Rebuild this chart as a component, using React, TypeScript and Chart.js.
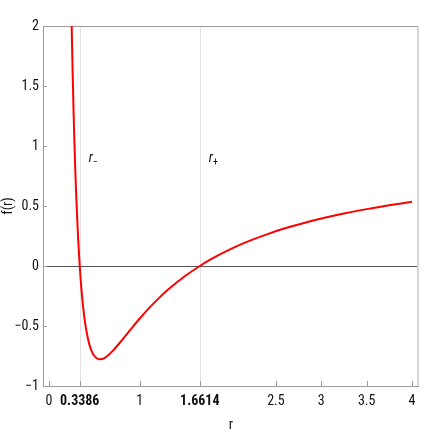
import React, { useEffect, useRef } from 'react';
import { Chart, registerables } from 'chart.js';

Chart.register(...registerables);

// Curve samples f(r)
const rValues = [0.25, 0.26, 0.27, 0.28, 0.29, 0.3, 0.32, 0.3386, 0.36, 0.38, 0.4, 0.43, 0.46, 0.5, 0.5625, 0.62, 0.7, 0.8, 0.9, 1.0, 1.1, 1.2, 1.3, 1.4, 1.5, 1.6614, 1.8, 2.0, 2.2, 2.4, 2.6, 2.8, 3.0, 3.25, 3.5, 3.75, 4.0];
const fValues = [2.0, 1.629, 1.309, 1.032, 0.792, 0.583, 0.243, 0, -0.216, -0.368, -0.484, -0.609, -0.69, -0.75, -0.778, -0.763, -0.709, -0.621, -0.528, -0.4375, -0.353, -0.276, -0.205, -0.142, -0.083, 0, 0.063, 0.141, 0.207, 0.264, 0.314, 0.357, 0.396, 0.438, 0.474, 0.507, 0.535];

const rMinus = 0.3386;
const rPlus = 1.6614;

const xTickValues = [0, 0.3386, 1, 1.6614, 2.5, 3, 3.5, 4];
const xTickLabels = ['0', '0.3386', '1', '1.6614', '2.5', '3', '3.5', '4'];
const xBoldTicks = ['0.3386', '1.6614'];
const yTickValues = [-1, -0.5, 0, 0.5, 1, 1.5, 2];
const yTickLabels = ['\u22121', '\u22120.5', '0', '0.5', '1', '1.5', '2'];

const horizonLabels = [
  { r: rMinus, sub: '\u2212' },
  { r: rPlus, sub: '+' },
];
const labelY = 0.9;

const FONT = '"Roboto Condensed", "DejaVu Sans Condensed", sans-serif';

const framePlugin = {
  id: 'framePlugin',
  beforeDatasetsDraw(chart: any) {
    const { ctx, chartArea, scales } = chart;
    const x = scales.x;
    const y = scales.y;
    const { left, right, top, bottom } = chartArea;
    ctx.save();
    // horizon grid lines
    ctx.strokeStyle = '#e2e2e2';
    ctx.lineWidth = 1;
    [rMinus, rPlus].forEach((v) => {
      const px = Math.round(x.getPixelForValue(v)) + 0.5;
      ctx.beginPath();
      ctx.moveTo(px, top);
      ctx.lineTo(px, bottom);
      ctx.stroke();
    });
    // zero line
    const y0 = Math.round(y.getPixelForValue(0)) + 0.5;
    ctx.strokeStyle = '#555';
    ctx.beginPath();
    ctx.moveTo(left, y0);
    ctx.lineTo(right, y0);
    ctx.stroke();
    // frame
    ctx.strokeStyle = '#9a9a9a';
    ctx.beginPath();
    ctx.moveTo(left + 0.5, bottom);
    ctx.lineTo(left + 0.5, top + 0.5);
    ctx.lineTo(right - 1, top + 0.5);
    ctx.moveTo(left, bottom + 0.5);
    ctx.lineTo(right, bottom + 0.5);
    ctx.stroke();
    ctx.strokeStyle = '#d4d4d4';
    ctx.lineWidth = 2;
    ctx.beginPath();
    ctx.moveTo(right - 1, top);
    ctx.lineTo(right - 1, bottom);
    ctx.stroke();
    // inward tick marks
    ctx.strokeStyle = '#9a9a9a';
    ctx.lineWidth = 1;
    ctx.beginPath();
    xTickValues.forEach((v) => {
      const px = Math.round(x.getPixelForValue(v)) + 0.5;
      ctx.moveTo(px, bottom);
      ctx.lineTo(px, bottom - 5);
    });
    yTickValues.forEach((v) => {
      const py = Math.round(y.getPixelForValue(v)) + 0.5;
      ctx.moveTo(left, py);
      ctx.lineTo(left + 4, py);
    });
    ctx.stroke();
    ctx.restore();
  },
  afterDatasetsDraw(chart: any) {
    const { ctx, scales } = chart;
    ctx.save();
    ctx.fillStyle = '#111';
    ctx.textBaseline = 'alphabetic';
    horizonLabels.forEach((h) => {
      const px = scales.x.getPixelForValue(h.r) + 9;
      const py = scales.y.getPixelForValue(labelY) + 4;
      ctx.font = `italic 14px ${FONT}`;
      ctx.fillText('r', px, py);
      const w = ctx.measureText('r').width;
      ctx.font = `10px ${FONT}`;
      ctx.fillText(h.sub, px + w, py + 3);
    });
    ctx.restore();
  },
};

export default function App() {
  const ref = useRef<HTMLCanvasElement | null>(null);
  useEffect(() => {
    document.body.style.margin = '0';
    if (!ref.current) return;
    const chart = new Chart(ref.current, {
      type: 'line',
      data: {
        datasets: [
          {
            data: rValues.map((r, i) => ({ x: r, y: fValues[i] })),
            borderColor: '#ff0000',
            borderWidth: 2,
            pointRadius: 0,
            cubicInterpolationMode: 'monotone',
            fill: false,
          },
        ],
      },
      options: {
        animation: false,
        responsive: false,
        events: [],
        layout: { padding: { left: 0, top: 26, right: 17, bottom: 0 } },
        plugins: { legend: { display: false }, tooltip: { enabled: false } },
        scales: {
          x: {
            type: 'linear',
            min: -0.0661,
            max: 4.077,
            grid: { display: false, drawTicks: false },
            border: { display: false },
            afterBuildTicks: (s: any) => {
              s.ticks = xTickValues.map((v) => ({ value: v }));
            },
            afterFit: (s: any) => {
              s.height = 50;
            },
            ticks: {
              autoSkip: false,
              maxRotation: 0,
              padding: 7,
              color: '#111',
              callback: (_v: any, i: number) => xTickLabels[i],
              font: (c: any) => ({
                family: FONT,
                size: 14,
                weight: xBoldTicks.includes(xTickLabels[c.index]) ? 'bold' : 'normal',
              }),
            },
            title: {
              display: true,
              text: 'r',
              color: '#111',
              font: { family: FONT, size: 14 },
              padding: { top: 0, bottom: 2 },
            },
          },
          y: {
            type: 'linear',
            min: -1,
            max: 2,
            grid: { display: false, drawTicks: false },
            border: { display: false },
            afterBuildTicks: (s: any) => {
              s.ticks = yTickValues.map((v) => ({ value: v }));
            },
            afterFit: (s: any) => {
              s.width = 43;
            },
            ticks: {
              autoSkip: false,
              padding: 4,
              color: '#111',
              callback: (_v: any, i: number) => yTickLabels[i],
              font: { family: FONT, size: 14 },
            },
            title: {
              display: true,
              text: 'f(r)',
              color: '#111',
              font: { family: FONT, size: 14 },
              padding: { top: 0, bottom: 0 },
            },
          },
        },
      },
      plugins: [framePlugin],
    });
    return () => chart.destroy();
  }, []);
  return (
    <div style={{ position: 'absolute', left: 0, top: 0, width: 436, height: 436 }}>
      <canvas ref={ref} width={436} height={436} />
    </div>
  );
}
